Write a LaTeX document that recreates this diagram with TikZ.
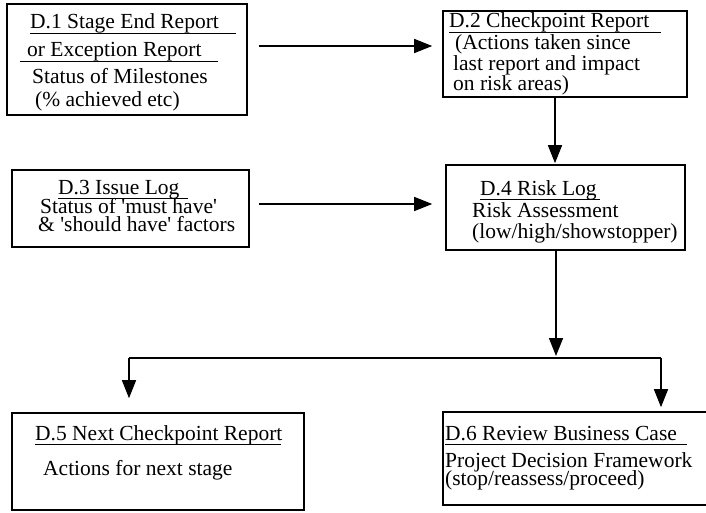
\documentclass[tikz,border=0pt]{standalone}
\usepackage{fontspec}
\setmainfont{Liberation Serif}
\usetikzlibrary{arrows.meta}
\newcommand{\ulx}[2]{\makebox[0pt][l]{\rule[-5pt]{#1}{1.3pt}}#2}
\newcommand{\sq}{\textquotesingle}
\begin{document}
\begin{tikzpicture}[x=1pt,y=-1pt,
  box/.style={draw,line width=1.6pt,inner sep=0pt},
  txt/.style={anchor=base west,inner sep=0pt,font=\fontsize{21.5}{22}\selectfont},
  arr/.style={line width=1.5pt,-{Triangle[length=18pt,width=14pt]}},
  ln/.style={line width=1.5pt}]
\useasboundingbox (0,0) rectangle (706,513);
% boxes
\node[box, minimum width=240pt, minimum height=111pt] (d1) at (127,59.5) {};
\node[box, minimum width=244pt, minimum height=86pt] (d2) at (565,54) {};
\node[box, minimum width=237pt, minimum height=77pt] (d3) at (130.5,208.5) {};
\node[box, minimum width=239pt, minimum height=85pt] (d4) at (565.5,207.5) {};
\node[box, minimum width=292pt, minimum height=97pt] (d5) at (158,461.5) {};
\node[box, minimum width=265pt, minimum height=93pt] (d6) at (575.5,458.5) {};
% texts
\node[txt] (t1a) at (30,29) {\ulx{206pt}{D.1 Stage End Report}};
\node[txt] (t1b) at (20,57) {\ulx{198pt}{\hspace{7pt}or Exception Report}};
\node[txt] (t1c) at (32,84) {Status of Milestones};
\node[txt] (t1d) at (35,107) {(\% achieved etc)};
\node[txt] (t2a) at (449,28) {\ulx{212pt}{D.2 Checkpoint Report}};
\node[txt] (t2b) at (455,50) {(Actions taken since};
\node[txt] (t2c) at (453,71) {last report and impact};
\node[txt] (t2d) at (453,91) {on risk areas)};
\node[txt] (t3a) at (58,194) {\ulx{130pt}{D.3 Issue Log}};
\node[txt] (t3b) at (40,213) {Status of \sq must have\sq};
\node[txt] (t3c) at (38,231) {\& \sq should have\sq{} factors};
\node[txt] (t4a) at (480,195) {\ulx{120pt}{D.4 Risk Log}};
\node[txt] (t4b) at (472,217) {Risk Assessment};
\node[txt] (t4c) at (472,238) {(low/high/showstopper)};
\node[txt] (t5a) at (35,440) {\ulx{246pt}{D.5 Next Checkpoint Report}};
\node[txt] (t5b) at (43,475) {Actions for next stage};
\node[txt] (t6a) at (445,440) {\ulx{242pt}{D.6 Review Business Case}};
\node[txt] (t6b) at (445,467) {Project Decision Framework};
\node[txt] (t6c) at (445,485) {(stop/reassess/proceed)};
% connectors
\coordinate (a1) at ([yshift=13.5pt]d1.east);
\draw[arr, shorten <=11pt, shorten >=10pt] (a1) -- (a1 -| d2.west);
\coordinate (a2) at ([xshift=-10pt]d2.south);
\draw[arr, shorten >=1pt] (a2) -- (a2 |- d4.north);
\coordinate (a3) at ([yshift=4.5pt]d3.east);
\draw[arr, shorten <=9pt, shorten >=13pt] (a3) -- (a3 -| d4.west);
\coordinate (j) at (556,358);
\coordinate (jl) at (129,358);
\coordinate (jr) at (661,358);
\draw[arr, shorten >=2pt] (d4.south -| j) -- (j);
\draw[ln] (jl) -- (jr);
\draw[arr, shorten >=14pt] (jl) -- (jl |- d5.north);
\draw[arr, shorten >=4pt] (jr) -- (jr |- d6.north);
\end{tikzpicture}
\end{document}
